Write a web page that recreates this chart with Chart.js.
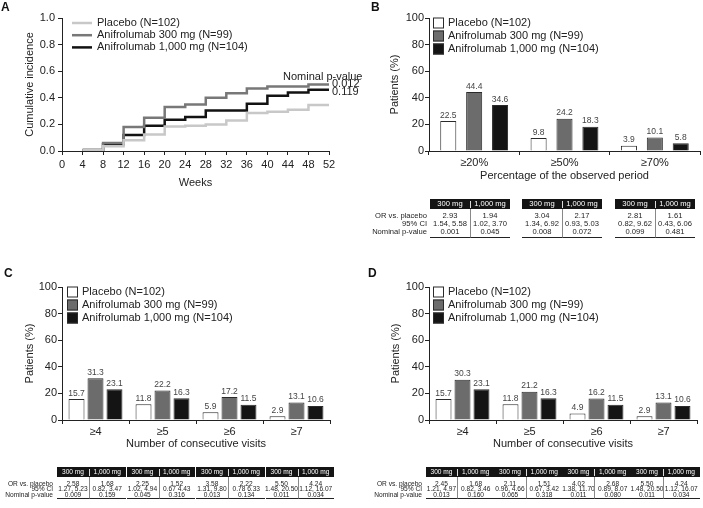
<!DOCTYPE html>
<html>
<head>
<meta charset="utf-8">
<script src="https://cdn.jsdelivr.net/npm/chart.js@4.4.1/dist/chart.umd.min.js"></script>
<style>
  html, body { margin: 0; padding: 0; background: #fff; }
  #fig { position: relative; width: 703px; height: 508px; overflow: hidden; font-family: "Liberation Sans", Arial, sans-serif; color: #222; }
  .box { position: absolute; }
  .box canvas { display: block; }
  .tag { position: absolute; font-weight: bold; font-size: 12px; line-height: 12px; color: #111; }
  .tbl { position: absolute; left: 0; top: 0; width: 703px; height: 508px; will-change: transform; }
  .tbl div { position: absolute; white-space: nowrap; box-sizing: border-box; }
</style>
</head>
<body>
<div id="fig">
  <div class="box" style="left:0;top:0;width:375px;height:195px"><canvas id="chartA" width="375" height="195"></canvas></div>
  <div class="box" style="left:350px;top:0;width:353px;height:190px"><canvas id="chartB" width="353" height="190"></canvas></div>
  <div class="box" style="left:0;top:255px;width:352px;height:200px"><canvas id="chartC" width="352" height="200"></canvas></div>
  <div class="box" style="left:350px;top:255px;width:353px;height:200px"><canvas id="chartD" width="353" height="200"></canvas></div>
  <div class="tag" style="left:1px;top:1px">A</div>
  <div class="tag" style="left:371px;top:1px">B</div>
  <div class="tag" style="left:4px;top:267px">C</div>
  <div class="tag" style="left:368px;top:267px">D</div>
  <div id="tableB" class="tbl"></div>
  <div id="tableC" class="tbl"></div>
  <div id="tableD" class="tbl"></div>
</div>
<script>
// ---- data ----
const groupLabels = ['Placebo (N=102)', 'Anifrolumab 300 mg (N=99)', 'Anifrolumab 1,000 mg (N=104)'];

// A: cumulative incidence by week
const weeks = [4, 8, 12, 16, 20, 24, 28, 32, 36, 40, 44, 48, 52];
const incPlacebo = [0.005, 0.035, 0.08, 0.125, 0.185, 0.19, 0.2, 0.23, 0.285, 0.295, 0.31, 0.345, 0.345];
const inc300 = [0.01, 0.06, 0.18, 0.25, 0.33, 0.35, 0.4, 0.435, 0.47, 0.485, 0.485, 0.5, 0.5];
const inc1000 = [0.005, 0.05, 0.12, 0.19, 0.235, 0.255, 0.305, 0.305, 0.355, 0.415, 0.44, 0.46, 0.46];
const pValuesA = ['', '0.012', '0.119'];

// B: percentage of the observed period
const periodCats = ['≥20%', '≥50%', '≥70%'];
const periodPlacebo = [22.5, 9.8, 3.9];
const period300 = [44.4, 24.2, 10.1];
const period1000 = [34.6, 18.3, 5.8];

// C and D: consecutive visits
const visitCats = ['≥4', '≥5', '≥6', '≥7'];
const visitsCPlacebo = [15.7, 11.8, 5.9, 2.9];
const visitsC300 = [31.3, 22.2, 17.2, 13.1];
const visitsC1000 = [23.1, 16.3, 11.5, 10.6];
const visitsDPlacebo = [15.7, 11.8, 4.9, 2.9];
const visitsD300 = [30.3, 21.2, 16.2, 13.1];
const visitsD1000 = [23.1, 16.3, 11.5, 10.6];

// tables
const tableRows = ['OR vs. placebo', '95% CI', 'Nominal p-value'];
const orB300 = ['2.93', '3.04', '2.81'];
const orB1000 = ['1.94', '2.17', '1.61'];
const ciB300 = ['1.54, 5.58', '1.34, 6.92', '0.82, 9.62'];
const ciB1000 = ['1.02, 3.70', '0.93, 5.03', '0.43, 6.06'];
const pB300 = ['0.001', '0.008', '0.099'];
const pB1000 = ['0.045', '0.072', '0.481'];

const orC300 = ['2.58', '2.25', '3.58', '5.50'];
const orC1000 = ['1.68', '1.52', '2.22', '4.24'];
const ciC300 = ['1.27, 5.23', '1.02, 4.94', '1.31, 9.80', '1.48, 20.50'];
const ciC1000 = ['0.82, 3.47', '0.67 4.43', '0.78 6.33', '1.12, 16.07'];
const pC300 = ['0.009', '0.045', '0.013', '0.011'];
const pC1000 = ['0.159', '0.316', '0.134', '0.034'];

const orD300 = ['2.45', '2.11', '4.02', '5.50'];
const orD1000 = ['1.68', '1.51', '2.68', '4.24'];
const ciD300 = ['1.21, 4.97', '0.96, 4.66', '1.38, 11.70', '1.48, 20.50'];
const ciD1000 = ['0.82, 3.46', '0.67, 3.42', '0.89, 8.07', '1.12, 16.07'];
const pD300 = ['0.013', '0.065', '0.011', '0.011'];
const pD1000 = ['0.160', '0.318', '0.080', '0.034'];

// ---- styles ----
const FONT = '"Liberation Sans", Arial, sans-serif';
const INK = '#222';
const lineColors = ['#c8c8c8', '#787878', '#121212'];
const barFill = ['#ffffff', '#6c6c6c', '#141414'];

// legend drawn inside the plot area, top-left
const drawLegend = {
    id: 'drawLegend',
    afterDraw(chart, args, o) {
        const { ctx, chartArea } = chart;
        ctx.save();
        ctx.font = '11px ' + FONT;
        ctx.textBaseline = 'middle';
        ctx.textAlign = 'left';
        chart.data.datasets.forEach((ds, i) => {
            const x = chartArea.left + o.x;
            const y = chartArea.top + o.y + i * o.gap;
            if (o.line) {
                ctx.strokeStyle = ds.borderColor;
                ctx.lineWidth = ds.borderWidth;
                ctx.beginPath();
                ctx.moveTo(x, y);
                ctx.lineTo(x + 20, y);
                ctx.stroke();
                ctx.fillStyle = INK;
                ctx.fillText(ds.label, x + 25, y);
            } else {
                ctx.fillStyle = ds.backgroundColor;
                ctx.fillRect(x, y - 5.5, 11, 11);
                ctx.strokeStyle = '#2a2a2a';
                ctx.lineWidth = 1;
                ctx.strokeRect(x + 0.5, y - 5, 10, 10);
                ctx.fillStyle = INK;
                ctx.fillText(ds.label, x + 15, y);
            }
        });
        ctx.restore();
    }
};

// value labels above each bar
const valueLabels = {
    id: 'valueLabels',
    afterDatasetsDraw(chart) {
        const { ctx } = chart;
        ctx.save();
        ctx.font = '8.5px ' + FONT;
        ctx.fillStyle = '#444';
        ctx.textAlign = 'center';
        ctx.textBaseline = 'bottom';
        chart.data.datasets.forEach((ds, i) => {
            chart.getDatasetMeta(i).data.forEach((bar, j) => {
                ctx.fillText(ds.data[j].toFixed(1), bar.x, bar.y - 1.5);
            });
        });
        ctx.restore();
    }
};

// p-values at the end of the curves (panel A)
const endLabels = {
    id: 'endLabels',
    afterDatasetsDraw(chart, args, o) {
        const { ctx, chartArea, scales: { x, y } } = chart;
        ctx.save();
        ctx.font = '11px ' + FONT;
        ctx.fillStyle = INK;
        ctx.textBaseline = 'middle';
        ctx.textAlign = 'left';
        ctx.fillText(o.heading, chartArea.right - 46, y.getPixelForValue(0.555));
        chart.data.datasets.forEach((ds, i) => {
            if (!o.values[i]) return;
            const last = ds.data[ds.data.length - 1];
            ctx.fillText(o.values[i], x.getPixelForValue(last.x) + 3, y.getPixelForValue(last.y) + o.nudge[i]);
        });
        ctx.restore();
    }
};

function axisBase() {
    return {
        grid: { display: true, drawOnChartArea: false, drawTicks: true, tickLength: 4, color: INK, lineWidth: 1 },
        border: { display: true, color: INK, width: 1 }
    };
}

function pts(vals) {
    return weeks.map((w, i) => ({ x: w, y: vals[i] }));
}

// ---- panel A ----
new Chart(document.getElementById('chartA'), {
    type: 'line',
    data: {
        datasets: [incPlacebo, inc300, inc1000].map((v, i) => ({
            label: groupLabels[i],
            data: pts(v),
            borderColor: lineColors[i],
            borderWidth: 2.5,
            pointRadius: 0,
            stepped: 'before',
            fill: false
        }))
    },
    options: {
        responsive: false,
        animation: false,
        events: [],
        layout: { padding: { left: 0, top: 18, right: 375 - 329, bottom: 195 - 151 - 38.6 } },
        plugins: {
            legend: { display: false },
            tooltip: { enabled: false },
            drawLegend: { x: 10, y: 5, gap: 12.2, line: true },
            endLabels: { heading: 'Nominal p-value', values: pValuesA, nudge: [0, -0.5, 2.5] }
        },
        scales: {
            x: Object.assign(axisBase(), {
                type: 'linear', min: 0, max: 52,
                ticks: { stepSize: 4, color: INK, font: { size: 11, family: FONT }, padding: 3, maxRotation: 0 },
                title: { display: true, text: 'Weeks', color: INK, font: { size: 11, family: FONT }, padding: { top: 0, bottom: 0 } },
                afterFit: s => { s.height = 38.6; }
            }),
            y: Object.assign(axisBase(), {
                min: 0, max: 1,
                ticks: { stepSize: 0.2, color: INK, font: { size: 11, family: FONT }, padding: 3, callback: v => v.toFixed(1) },
                title: { display: true, text: 'Cumulative incidence', color: INK, font: { size: 11, family: FONT }, padding: { top: 23.4, bottom: 0 } },
                afterFit: s => { s.width = 62; }
            })
        }
    },
    plugins: [drawLegend, endLabels]
});

// ---- bar panels ----
function barChart(id, cats, series, o) {
    return new Chart(document.getElementById(id), {
        type: 'bar',
        data: {
            labels: cats,
            datasets: series.map((v, i) => ({
                label: groupLabels[i],
                data: v,
                backgroundColor: barFill[i],
                borderColor: '#2a2a2a',
                borderWidth: 1,
                categoryPercentage: o.cat,
                barPercentage: o.bar
            }))
        },
        options: {
            responsive: false,
            animation: false,
            events: [],
            layout: { padding: { left: 0, top: o.top, right: o.w - o.right, bottom: o.h - o.bottom - o.xH } },
            plugins: {
                legend: { display: false },
                tooltip: { enabled: false },
                drawLegend: { x: o.legX, y: 5, gap: 13, line: false }
            },
            scales: {
                x: Object.assign(axisBase(), {
                    ticks: { color: INK, font: { size: 11, family: FONT }, padding: 1, maxRotation: 0 },
                    title: { display: true, text: o.xTitle, color: INK, font: { size: 11, family: FONT }, padding: { top: 0, bottom: 0 } },
                    afterFit: s => { s.height = o.xH; }
                }),
                y: Object.assign(axisBase(), {
                    min: 0, max: 100,
                    ticks: { stepSize: 20, color: INK, font: { size: 11, family: FONT }, padding: 1 },
                    title: { display: true, text: 'Patients (%)', color: INK, font: { size: 11, family: FONT }, padding: { top: o.titlePad, bottom: 0 } },
                    afterFit: s => { s.width = o.left; }
                })
            }
        },
        plugins: [drawLegend, valueLabels]
    });
}

barChart('chartB', periodCats, [periodPlacebo, period300, period1000], {
    w: 353, h: 190, left: 79, top: 18, right: 350, bottom: 151, xH: 31.6, titlePad: 38.7,
    cat: 0.86, bar: 0.62, legX: 4, xTitle: 'Percentage of the observed period'
});
barChart('chartC', visitCats, [visitsCPlacebo, visitsC300, visitsC1000], {
    w: 352, h: 200, left: 62, top: 32, right: 330, bottom: 165, xH: 30.6, titlePad: 22.9,
    cat: 0.85, bar: 0.84, legX: 5, xTitle: 'Number of consecutive visits'
});
barChart('chartD', visitCats, [visitsDPlacebo, visitsD300, visitsD1000], {
    w: 353, h: 200, left: 79, top: 32, right: 347, bottom: 165, xH: 30.6, titlePad: 39.1,
    cat: 0.85, bar: 0.84, legX: 4, xTitle: 'Number of consecutive visits'
});

// ---- odds ratio tables ----
function buildTable(id, s, cols) {
    const wrap = document.getElementById(id);
    const add = (css, text) => {
        const d = document.createElement('div');
        d.style.cssText = css;
        if (text !== undefined) d.textContent = text;
        wrap.appendChild(d);
        return d;
    };
    const fs = 'font-size:' + s.font + 'px;';
    tableRows.forEach((t, r) => {
        const top = s.top + s.headH + s.padTop + r * s.rowH;
        add(fs + `left:0;width:${s.labelRight}px;text-align:right;top:${top}px;height:${s.rowH}px;line-height:${s.rowH}px;color:#222`, t);
    });
    const bodyH = s.padTop + 3 * s.rowH + 1.5;
    s.blocks.forEach((bx, k) => {
        add(`left:${bx}px;top:${s.top}px;width:${s.blockW}px;height:${s.headH}px;background:#141414`);
        add(fs + `left:${bx}px;top:${s.top}px;width:${s.split}px;height:${s.headH}px;line-height:${s.headH}px;text-align:center;color:#fff`, '300 mg');
        add(fs + `left:${bx + s.split}px;top:${s.top}px;width:${s.blockW - s.split}px;height:${s.headH}px;line-height:${s.headH}px;text-align:center;color:#fff`, '1,000 mg');
        add(`left:${bx + s.split}px;top:${s.top + 1.5}px;width:1px;height:${s.headH - 3}px;background:#ddd`);
        // body columns
        const colVals = [[cols.or300[k], cols.ci300[k], cols.p300[k]], [cols.or1000[k], cols.ci1000[k], cols.p1000[k]]];
        colVals.forEach((vals, c) => {
            const cx = bx + (c ? s.split : 0);
            const cw = c ? s.blockW - s.split : s.split;
            add(`left:${cx}px;top:${s.top + s.headH}px;width:${cw}px;height:${bodyH}px;border-bottom:1px solid #222;` + (c ? 'border-left:1px solid #888;' : ''));
            vals.forEach((t, r) => {
                const top = s.top + s.headH + s.padTop + r * s.rowH;
                add(fs + `left:${cx - 3}px;width:${cw + 6}px;text-align:center;top:${top}px;height:${s.rowH}px;line-height:${s.rowH}px;color:#222`, t);
            });
        });
    });
}

buildTable('tableB', { top: 199, headH: 10, padTop: 3, rowH: 8, font: 7.6, labelRight: 427, blocks: [430, 522, 615], blockW: 80, split: 40 },
    { or300: orB300, or1000: orB1000, ci300: ciB300, ci1000: ciB1000, p300: pB300, p1000: pB1000 });
buildTable('tableC', { top: 467, headH: 10, padTop: 3.5, rowH: 5.8, font: 6.6, labelRight: 53, blocks: [57, 126.5, 196, 265.5], blockW: 68.5, split: 32 },
    { or300: orC300, or1000: orC1000, ci300: ciC300, ci1000: ciC1000, p300: pC300, p1000: pC1000 });
buildTable('tableD', { top: 467, headH: 10, padTop: 3.5, rowH: 5.8, font: 6.6, labelRight: 422, blocks: [426, 494.5, 563, 631.5], blockW: 68.5, split: 31 },
    { or300: orD300, or1000: orD1000, ci300: ciD300, ci1000: ciD1000, p300: pD300, p1000: pD1000 });
</script>
</body>
</html>
